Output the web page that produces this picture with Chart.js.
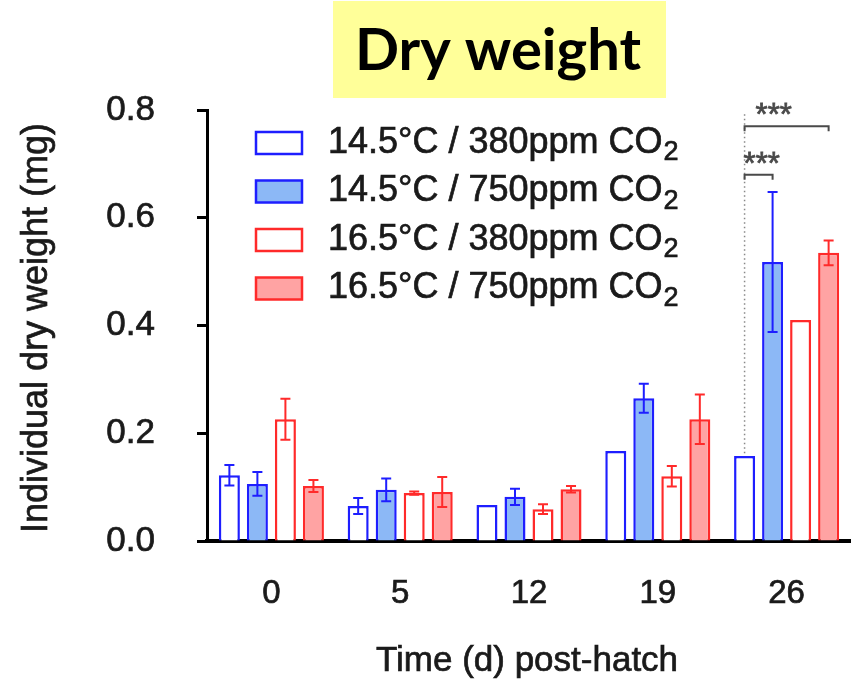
<!DOCTYPE html>
<html>
<head>
<meta charset="utf-8">
<script src="https://cdn.jsdelivr.net/npm/chart.js@4.4.1/dist/chart.umd.min.js"></script>
<style>
  html, body { margin: 0; padding: 0; background: #fff; }
  #wrap { width: 851px; height: 681px; }
</style>
</head>
<body>
<div id="wrap"><canvas id="chart" width="851" height="681"></canvas></div>
<script>
// data (mg)
const days = ["0", "5", "12", "19", "26"];
const seriesNames = ["14.5°C / 380ppm CO", "14.5°C / 750ppm CO", "16.5°C / 380ppm CO", "16.5°C / 750ppm CO"];
const cold380 = [0.122, 0.065, 0.067, 0.167, 0.158];
const cold750 = [0.106, 0.095, 0.082, 0.265, 0.518];
const warm380 = [0.226, 0.089, 0.059, 0.120, 0.410];
const warm750 = [0.102, 0.091, 0.096, 0.226, 0.535];
const cold380Err = [0.019, 0.015, 0, 0, 0];
const cold750Err = [0.022, 0.021, 0.015, 0.027, 0.130];
const warm380Err = [0.038, 0.003, 0.009, 0.019, 0];
const warm750Err = [0.011, 0.028, 0.006, 0.046, 0.023];
const yTicks = [0, 0.2, 0.4, 0.6, 0.8];

// significance brackets at day 26: bar index from/to, level in mg
const sigBrackets = [
  { cat: 4, from: 0, to: 3, level: 0.770, label: "***" },
  { cat: 4, from: 0, to: 1, level: 0.680, label: "***" }
];

const C = {
  blue: "#1e1eff", blueFill: "#8cb8f6",
  red: "#ff2a2a", redFill: "#ffa3a3",
  text: "#1a1a1a", sig: "#4a4a4a", title: "#ffff99"
};
const SANS = "'Liberation Sans', Arial, sans-serif";

const errs = [cold380Err, cold750Err, warm380Err, warm750Err];

function barSet(label, data, border, fill) {
  return {
    label, data,
    backgroundColor: fill, borderColor: border, borderWidth: 2.5,
    barPercentage: 0.75, categoryPercentage: 0.87
  };
}

// text with a thin outline so it reads as heavy as the original
function heavyText(ctx, str, x, y, w = 0.7) {
  ctx.lineWidth = w;
  ctx.strokeStyle = ctx.fillStyle;
  ctx.fillText(str, x, y);
  ctx.strokeText(str, x, y);
}

// error bars on top of the bars
const errorBars = {
  id: "errorBars",
  afterDatasetsDraw(chart) {
    const ctx = chart.ctx, y = chart.scales.y;
    chart.data.datasets.forEach((ds, i) => {
      const meta = chart.getDatasetMeta(i);
      meta.data.forEach((bar, j) => {
        const e = errs[i][j];
        if (!e) return;
        const top = y.getPixelForValue(ds.data[j] + e);
        const bot = y.getPixelForValue(ds.data[j] - e);
        ctx.save();
        ctx.strokeStyle = ds.borderColor;
        ctx.lineWidth = 2;
        ctx.beginPath();
        ctx.moveTo(bar.x, top); ctx.lineTo(bar.x, bot);
        ctx.moveTo(bar.x - 5, top); ctx.lineTo(bar.x + 5, top);
        ctx.moveTo(bar.x - 5, bot); ctx.lineTo(bar.x + 5, bot);
        ctx.stroke();
        ctx.restore();
      });
    });
  }
};

// title box, axis titles, legend with subscripts, significance marks
const decorations = {
  id: "decorations",
  afterDraw(chart) {
    const ctx = chart.ctx, y = chart.scales.y;
    ctx.save();

    // title
    ctx.fillStyle = C.title;
    ctx.fillRect(333, 1, 333, 97);
    ctx.fillStyle = "#000";
    ctx.font = "bold 58px Lato, 'Open Sans', sans-serif";
    ctx.textAlign = "center"; ctx.textBaseline = "middle";
    ctx.fillText("Dry weight", 498, 51);

    // axis titles
    ctx.fillStyle = C.text;
    ctx.font = "35px " + SANS;
    heavyText(ctx, "Time (d) post-hatch", 527, 661);
    ctx.save();
    ctx.translate(37, 328);
    ctx.rotate(-Math.PI / 2);
    ctx.font = "36px " + SANS;
    heavyText(ctx, "Individual dry weight (mg)", 0, 0);
    ctx.restore();

    // legend
    chart.data.datasets.forEach((ds, i) => {
      const cy = 143 + i * 48.5;
      ctx.fillStyle = ds.backgroundColor;
      ctx.strokeStyle = ds.borderColor;
      ctx.lineWidth = 2.5;
      ctx.fillRect(256, cy - 11, 46, 22);
      ctx.strokeRect(256, cy - 11, 46, 22);
      ctx.fillStyle = C.text;
      ctx.textAlign = "left"; ctx.textBaseline = "middle";
      ctx.font = "36px " + SANS;
      heavyText(ctx, seriesNames[i], 328, cy);
      const w = ctx.measureText(seriesNames[i]).width;
      ctx.font = "27px " + SANS;
      heavyText(ctx, "2", 328 + w + 1, cy + 10);
    });

    // significance: dotted guide + brackets
    const metas = [0, 1, 2, 3].map(i => chart.getDatasetMeta(i));
    const x0 = metas[0].data[4].x;
    ctx.strokeStyle = "#888";
    ctx.lineWidth = 1.5;
    ctx.setLineDash([1.5, 3]);
    ctx.beginPath();
    ctx.moveTo(x0, y.getPixelForValue(0.792));
    ctx.lineTo(x0, y.getPixelForValue(cold380[4]));
    ctx.stroke();
    ctx.setLineDash([]);

    sigBrackets.forEach((b, k) => {
      const xa = metas[b.from].data[b.cat].x;
      const xb = metas[b.to].data[b.cat].x;
      const py = y.getPixelForValue(b.level);
      ctx.strokeStyle = C.sig;
      ctx.lineWidth = 2;
      ctx.beginPath();
      ctx.moveTo(xa, py + 5); ctx.lineTo(xa, py); ctx.lineTo(xb, py); ctx.lineTo(xb, py + 5);
      ctx.stroke();
      ctx.fillStyle = C.sig;
      ctx.font = "31px " + SANS;
      ctx.textAlign = "left"; ctx.textBaseline = "alphabetic";
      heavyText(ctx, b.label, xa + (k === 0 ? 11 : -1), py - 1, 0.8);
    });

    ctx.restore();
  }
};

new Chart(document.getElementById("chart"), {
  type: "bar",
  data: {
    labels: days,
    datasets: [
      barSet(seriesNames[0], cold380, C.blue, "#ffffff"),
      barSet(seriesNames[1], cold750, C.blue, C.blueFill),
      barSet(seriesNames[2], warm380, C.red, "#ffffff"),
      barSet(seriesNames[3], warm750, C.red, C.redFill)
    ]
  },
  options: {
    responsive: false, animation: false,
    layout: { padding: { top: 110, right: 0, left: 0, bottom: 0 } },
    plugins: { legend: { display: false }, tooltip: { enabled: false } },
    scales: {
      x: {
        grid: { display: false, drawTicks: false },
        border: { color: "#000", width: 4 },
        ticks: { color: C.text, font: { size: 33, family: SANS }, padding: 33,
                 textStrokeColor: C.text, textStrokeWidth: 0.7 },
        afterFit(s) { s.height = 140; }
      },
      y: {
        min: 0, max: 0.8,
        afterBuildTicks(s) { s.ticks = yTicks.map(v => ({ value: v })); },
        grid: { drawOnChartArea: false, tickLength: 10, tickColor: "#000", tickWidth: 3 },
        border: { color: "#000", width: 3 },
        ticks: { color: C.text, font: { size: 35, family: SANS }, padding: 42,
                 textStrokeColor: C.text, textStrokeWidth: 0.7,
                 callback: v => Number(v).toFixed(1) },
        afterFit(s) { s.width = 207; }
      }
    }
  },
  plugins: [errorBars, decorations]
});
</script>
</body>
</html>
